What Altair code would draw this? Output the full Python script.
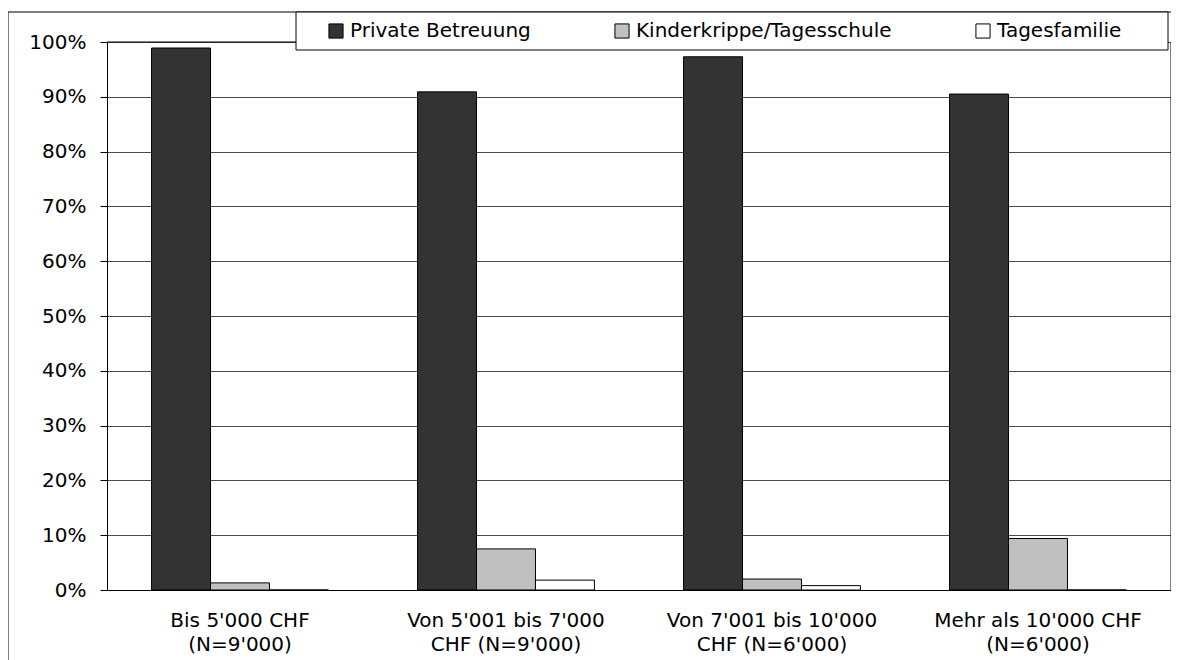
import altair as alt
import pandas as pd

categories = [
    "Bis 5'000 CHF|(N=9'000)",
    "Von 5'001 bis 7'000|CHF (N=9'000)",
    "Von 7'001 bis 10'000|CHF (N=6'000)",
    "Mehr als 10'000 CHF|(N=6'000)",
]
series = ["Private Betreuung", "Kinderkrippe/Tagesschule", "Tagesfamilie"]
private = [98.9, 90.9, 97.3, 90.5]
krippe = [1.3, 7.5, 2.0, 9.4]
tagesfamilie = [0.0, 1.8, 0.8, 0.0]
colors = ["#333333", "#c0c0c0", "#ffffff"]
y_ticks = [0, 0.1, 0.2, 0.3, 0.4, 0.5, 0.6, 0.7, 0.8, 0.9, 1.0]

rows = []
for vals, s in zip([private, krippe, tagesfamilie], series):
    for c, v in zip(categories, vals):
        rows.append({"Kategorie": c, "Serie": s, "Wert": v / 100})
df = pd.DataFrame(rows)

W, H = 1064, 548
FONT = "DejaVu Sans"

bars = alt.Chart(df).mark_bar(stroke="black", strokeWidth=1).encode(
    x=alt.X("Kategorie:N", sort=categories, title=None,
            scale=alt.Scale(paddingInner=0.335, paddingOuter=0.1675),
            axis=alt.Axis(labelExpr="split(datum.label, '|')", labelAngle=0,
                          ticks=False, labelPadding=20, labelLineHeight=24,
                          labelFontSize=20, labelLimit=0,
                          domainColor="black", labelColor="black")),
    xOffset=alt.XOffset("Serie:N", sort=series, scale=alt.Scale(paddingInner=0, paddingOuter=0)),
    y=alt.Y("Wert:Q", title=None, scale=alt.Scale(domain=[0, 1], nice=False),
            axis=alt.Axis(values=y_ticks, format=".0%", grid=True, gridColor="#4a4a4a",
                          tickColor="black", tickSize=7, labelPadding=14,
                          labelFontSize=20, domainColor="black", labelColor="black")),
    color=alt.Color("Serie:N", sort=series,
                    scale=alt.Scale(domain=series, range=colors),
                    legend=alt.Legend(title=None, orient="none", direction="horizontal",
                                      legendX=219, legendY=-21, padding=0,
                                      symbolType="square", symbolSize=200,
                                      symbolStrokeColor="black", symbolStrokeWidth=1,
                                      symbolOpacity=1, labelLimit=0,
                                      labelFontSize=20, labelColor="black",
                                      labelOffset=4, columnPadding=81)),
)

deco = alt.Data(values=[{}])
legend_box = alt.Chart(deco).mark_rect(fill="white", stroke="black", strokeWidth=1).encode(
    x=alt.value(189), x2=alt.value(1061), y=alt.value(-30), y2=alt.value(8))
top_border = alt.Chart(deco).mark_rule(color="black").encode(
    x=alt.value(0), x2=alt.value(189), y=alt.value(0))
right_border = alt.Chart(deco).mark_rule(color="black").encode(
    x=alt.value(W), y=alt.value(0), y2=alt.value(H))
frame_left = alt.Chart(deco).mark_rule(color="black").encode(
    x=alt.value(-99), y=alt.value(-30), y2=alt.value(H + 80))
frame_top = alt.Chart(deco).mark_rule(color="black").encode(
    x=alt.value(-99), x2=alt.value(W + 20), y=alt.value(-30))

chart = alt.layer(bars, top_border, right_border, frame_left, frame_top, legend_box).properties(
    width=W, height=H,
    autosize=alt.AutoSizeParams(type="none"),
    padding={"left": 99, "top": 34, "right": 0, "bottom": 70},
).configure_view(stroke=None).configure(
    font=FONT
).configure_axis(labelFont=FONT).configure_legend(labelFont=FONT)

chart.save("out.html", embed_options={"renderer": "svg", "actions": False})
